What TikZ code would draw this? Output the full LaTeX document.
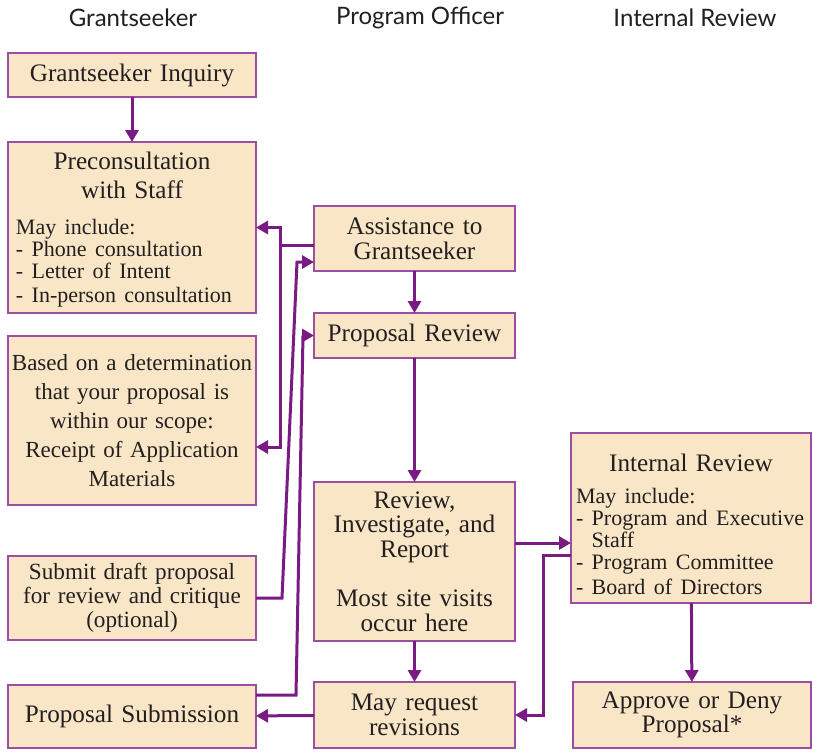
\documentclass[tikz,border=0pt]{standalone}
\usepackage{fontspec}
\setmainfont{Liberation Serif}
\setsansfont{Lato}
\usetikzlibrary{arrows.meta,positioning}
\definecolor{boxfill}{HTML}{F8E6C6}
\definecolor{boxline}{HTML}{9C4EA2}
\definecolor{flow}{HTML}{7A1A83}
\definecolor{ink}{HTML}{231F20}
\hyphenpenalty=10000

\begin{document}
\begin{tikzpicture}[x=0.5pt, y=-0.5pt,
   font=\fontsize{12.6}{12.3}\selectfont, text=ink,
   box/.style={draw=boxline, line width=0.75pt, fill=boxfill, outer sep=0pt, inner xsep=4pt, inner ysep=1pt, align=center},
   col1/.style={box, text width=116pt},
   col2/.style={box, text width=92.5pt},
   head/.style={font=\sffamily\fontsize{12}{14}\selectfont},
   arr/.style={-{Triangle[length=6pt, width=6.5pt]}, draw=flow, line width=1.5pt}]
   \useasboundingbox (0,0) rectangle (813,752);
   % column headings
   \node[head] (hgs) at (133,18) {Grantseeker};
   \node[head] (hpo) at (420,18) {Program Officer};
   \node[head] (hir) at (695,18) {Internal Review};
   % grantseeker column
   \node[col1, minimum height=22pt, anchor=north west] (inq) at (8,53) {Grantseeker Inquiry};
   \node[col1, minimum height=85.5pt, below=22.5pt of inq, align=left] (pre) {{\centering\fontsize{12.6}{14.5}\selectfont\rule{0pt}{11pt}Preconsultation\\with Staff\par}\vspace{7pt}\fontsize{11}{11}\selectfont May include:\\- Phone consultation\\- Letter of Intent\\- In-person consultation};
   \node[col1, minimum height=84.5pt, below=11.5pt of pre, inner xsep=1.5pt, text width=121pt, font=\fontsize{11.5}{14.5}\selectfont] (det) {Based on a determination\\that your proposal is\\within our scope:\\Receipt of Application\\Materials};
   \node[col1, minimum height=42pt, below=25.5pt of det, font=\fontsize{11.6}{12}\selectfont] (sub) {Submit draft proposal\\for review and critique\\(optional)};
   \node[col1, minimum height=31.5pt, below=22.5pt of sub] (psub) {Proposal Submission};
   % program officer column
   \node[col2, minimum height=32.5pt, anchor=north west] (asst) at (314,206) {Assistance to\\Grantseeker};
   \node[col2, minimum height=22.5pt, below=21pt of asst] (prev) {Proposal Review};
   \node[col2, minimum height=79.5pt, below=62pt of prev] (rev) {Review,\\Investigate, and\\Report\\[12.3pt]Most site visits\\occur here};
   \node[col2, minimum height=33pt, below=20.5pt of rev] (req) {May request\\revisions};
   % internal review column
   \node[box, text width=115pt, inner xsep=2.5pt, minimum height=85pt, anchor=north west, align=left] (irev) at (571,433) {{\centering\fontsize{12.6}{14.5}\selectfont\rule{0pt}{15pt}Internal Review\par}\vspace{5pt}\fontsize{11}{11}\selectfont May include:\\- Program and Executive\\\phantom{-} Staff\\- Program Committee\\- Board of Directors};
   \node[box, text width=111pt, minimum height=33pt, anchor=north west] (appr) at (573,682) {Approve or Deny\\Proposal*};
   % bends of the side connectors
   \coordinate (fork) at (280,245);
   \coordinate (s1) at (282,598);
   \coordinate (s2) at (297,262);
   \coordinate (p1) at (296,695);
   \coordinate (p2) at (303,335.5);
   \coordinate (r1) at (543,555);
   \draw[arr] (inq) -- (pre);
   \draw[arr] (asst.west |- fork) -- (fork) |- (pre.east);
   \draw[arr] (fork) |- ([yshift=-13.25pt]det.east);
   \draw[arr] (sub.east) -- (s1) -- (s2) -- (asst.west |- s2);
   \draw[arr] (psub.east |- p1) -- (p1) -- (p2) -- (prev.west);
   \draw[arr] (asst) -- (prev);
   \draw[arr] (prev) -- (rev);
   \draw[arr] (rev) -- (req);
   \draw[arr] ([yshift=9.25pt]rev.east) -- ([yshift=-12.5pt]irev.west);
   \draw[arr] ([yshift=-18.5pt]irev.west) -- (r1) |- (req.east);
   \draw[arr] (irev) -- (appr);
   \draw[arr] (req) -- (psub);
\end{tikzpicture}
\end{document}
